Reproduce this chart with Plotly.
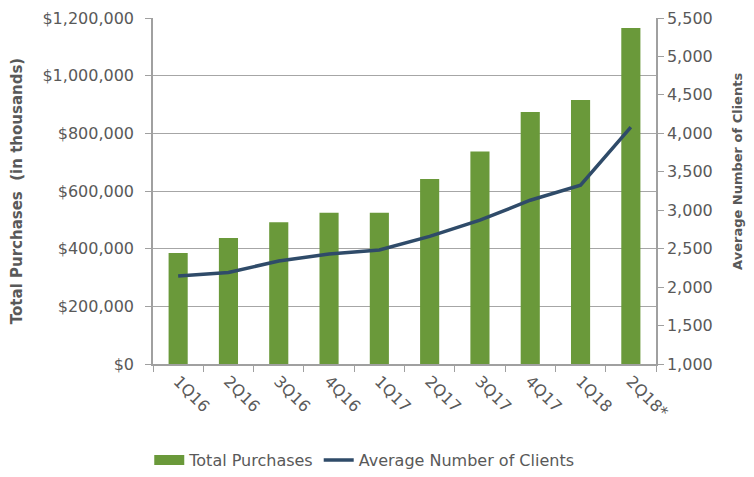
import plotly.graph_objects as go

quarters = ["1Q16", "2Q16", "3Q16", "4Q16", "1Q17", "2Q17", "3Q17", "4Q17", "1Q18", "2Q18*"]
total_purchases = [385000, 437000, 492000, 525000, 525000, 642000, 737000, 874000, 916000, 1165000]
avg_clients = [2145, 2190, 2340, 2430, 2483, 2660, 2870, 3130, 3325, 4080]

left_ticks = [0, 200000, 400000, 600000, 800000, 1000000, 1200000]
left_labels = ["$0", "$200,000", "$400,000", "$600,000", "$800,000", "$1,000,000", "$1,200,000"]

GREY = "#595959"
FONT = "DejaVu Sans"
GREEN = "#6A993A"
NAVY = "#2F4B69"

fig = go.Figure()
fig.add_trace(go.Bar(
    x=quarters, y=total_purchases, name="Total Purchases",
    marker=dict(color=GREEN, line=dict(width=0)), yaxis="y", showlegend=False,
))
# legend entry drawn as a wide rectangle like the reference
fig.add_trace(go.Scatter(
    x=[None], y=[None], name="Total Purchases", mode="lines",
    line=dict(color=GREEN, width=10), showlegend=True,
))
fig.add_trace(go.Scatter(
    x=quarters, y=avg_clients, name="Average Number of Clients",
    mode="lines", line=dict(color=NAVY, width=3.5), yaxis="y2",
))

fig.update_layout(
    width=746, height=469,
    margin=dict(l=145, r=98, t=10, b=113),
    paper_bgcolor="white", plot_bgcolor="white",
    font=dict(family=FONT, size=16, color=GREY),
    bargap=0.62,
    showlegend=True,
    legend=dict(orientation="h", x=0.42, xanchor="center",
                yref="container", y=0.036, yanchor="middle",
                font=dict(size=16, color=GREY), traceorder="normal",
                bgcolor="rgba(0,0,0,0)"),
    xaxis=dict(
        type="category", tickangle=45, ticks="outside", tickson="boundaries",
        ticklen=6, tickcolor="#A0A0A0", showline=True, linecolor="#A0A0A0", linewidth=1.5,
        showgrid=False, automargin=False, tickfont=dict(size=16, color=GREY),
    ),
    yaxis=dict(
        range=[0, 1200000], tickvals=left_ticks, ticktext=left_labels,
        showgrid=True, gridcolor="#A6A6A6", gridwidth=1,
        showline=True, linecolor="#A0A0A0", linewidth=1.5,
        ticks="outside", ticklen=6, tickcolor="#A0A0A0", zeroline=False,
        automargin=False, tickfont=dict(size=16, color=GREY), ticklabelstandoff=8,
        title=dict(text="<b>Total Purchases  (in thousands)</b>", font=dict(size=15, color=GREY), standoff=20),
    ),
    yaxis2=dict(
        range=[1000, 5500], dtick=500, tickformat=",d", overlaying="y", side="right",
        showgrid=False, showline=True, linecolor="#A0A0A0", linewidth=1.5,
        ticks="outside", ticklen=6, tickcolor="#A0A0A0", zeroline=False,
        automargin=False, tickfont=dict(size=16, color=GREY),
    ),
    annotations=[dict(
        text="<b>Average Number of Clients</b>", xref="paper", yref="paper",
        x=1.163, y=0.558, xanchor="center", yanchor="middle", textangle=-90,
        showarrow=False, font=dict(size=13, color=GREY),
    )],
)

fig.write_html("out.html")
